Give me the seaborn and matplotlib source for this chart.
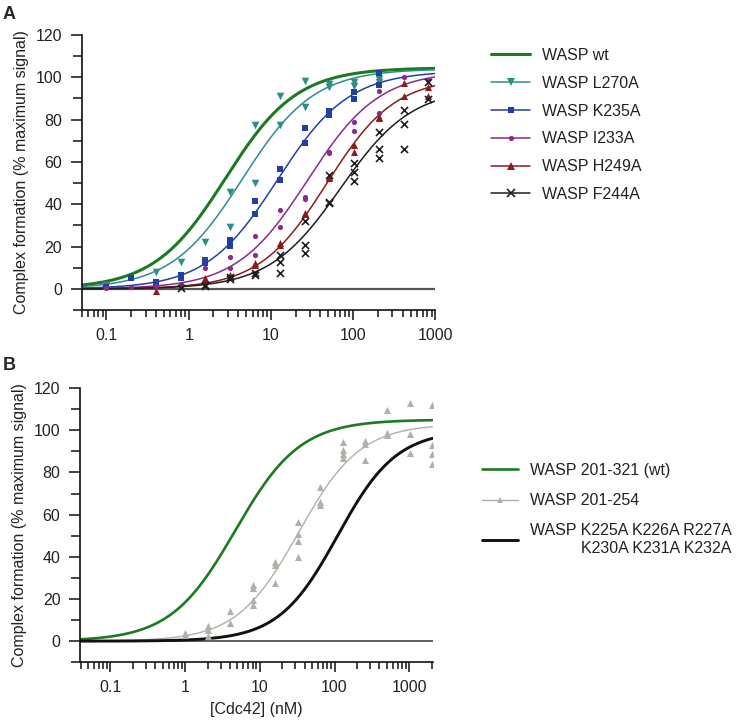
import numpy as np
import pandas as pd
import seaborn as sns
import matplotlib
matplotlib.use('Agg')
import matplotlib.pyplot as plt
from matplotlib.lines import Line2D
from matplotlib.ticker import MultipleLocator, LogLocator, NullFormatter

# ---- panel A data (replicate points) ----
l270a_x = [0.1, 0.4, 0.8, 1.6, 3.2, 3.2, 6.4, 6.4, 12.8, 12.8, 25.6, 25.6, 51.2, 51.2, 102.4, 102.4, 204.8, 204.8]
l270a_y = [1.8, 8.2, 12.9, 22.4, 46.0, 29.4, 77.5, 49.9, 91.2, 77.5, 98.3, 85.9, 96.7, 95.6, 98.0, 95.9, 99.0, 98.0]

k235a_x = [0.1, 0.2, 0.4, 0.4, 0.8, 0.8, 1.6, 1.6, 3.2, 3.2, 6.4, 6.4, 12.8, 12.8, 25.6, 25.6, 51.2, 51.2, 102.4, 102.4, 204.8, 204.8]
k235a_y = [0.8, 5.0, 3.5, 2.5, 6.6, 5.0, 13.7, 12.5, 23.2, 20.3, 41.6, 35.4, 56.6, 51.5, 76.2, 69.1, 84.2, 82.2, 93.2, 89.6, 102.2, 96.4]

i233a_x = [0.1, 0.2, 0.4, 0.8, 1.6, 3.2, 3.2, 6.4, 6.4, 12.8, 12.8, 25.6, 25.6, 51.2, 51.2, 102.4, 102.4, 204.8, 204.8, 409.6, 819.2]
i233a_y = [0.3, 0.8, 1.5, 2.5, 9.8, 15.3, 9.8, 25.0, 16.0, 37.3, 29.4, 43.6, 42.4, 64.9, 64.1, 79.1, 74.7, 93.6, 83.3, 100.3, 98.8]

h249a_x = [0.4, 0.8, 1.6, 1.6, 3.2, 3.2, 6.4, 6.4, 12.8, 12.8, 25.6, 25.6, 51.2, 51.2, 102.4, 102.4, 204.8, 204.8, 409.6, 409.6, 819.2, 819.2]
h249a_y = [-1.0, 1.5, 5.0, 4.0, 6.6, 5.5, 12.4, 11.2, 21.9, 21.0, 36.1, 35.5, 53.1, 52.3, 68.0, 64.9, 81.4, 80.6, 97.5, 91.2, 95.6, 91.0]

f244a_x = [0.8, 1.6, 1.6, 3.2, 3.2, 6.4, 6.4, 12.8, 12.8, 12.8, 25.6, 25.6, 25.6, 51.2, 51.2, 51.2,
           102.4, 102.4, 102.4, 204.8, 204.8, 204.8, 409.6, 409.6, 409.6, 819.2, 819.2]
f244a_y = [0.5, 2.0, 1.2, 5.8, 4.5, 7.7, 6.6, 16.1, 12.9, 7.7, 32.1, 20.8, 17.2, 53.6, 41.3, 40.8,
           59.4, 55.4, 51.2, 74.3, 66.1, 61.7, 84.6, 78.0, 66.0, 98.0, 89.6]

# fitted curve parameters (top, EC50 in nM, Hill slope)
a_names = ['WASP wt', 'WASP L270A', 'WASP K235A', 'WASP I233A', 'WASP H249A', 'WASP F244A']
a_top = [104.5, 104.0, 103.0, 103.0, 100.0, 95.0]
a_ec50 = [2.8, 4.5, 12.0, 28.0, 48.0, 70.0]
a_hill = [1.0, 1.0, 1.0, 1.0, 1.05, 1.0]

# ---- panel B data ----
b254_x = [1, 1, 2, 2, 2, 4, 4, 8, 8, 8, 8, 16, 16, 16, 32, 32, 32, 32, 64, 64, 64,
          128, 128, 128, 128, 256, 256, 256, 512, 512, 512, 1024, 1024, 1024, 2048, 2048, 2048, 2048]
b254_y = [4.0, 2.7, 7.1, 5.5, 2.4, 14.4, 8.7, 26.8, 25.2, 19.5, 17.0, 37.6, 36.0, 27.6, 56.7, 50.7, 47.5, 40.0,
          73.0, 65.8, 64.4, 94.3, 90.8, 88.7, 86.7, 95.1, 93.6, 85.8, 109.7, 98.8, 97.7, 113.0, 98.2, 89.1,
          111.9, 93.0, 88.7, 84.0]

b_names = ['WASP 201-321 (wt)', 'WASP 201-254', 'WASP K225A K226A R227A\nK230A K231A K232A']
b_top = [105.0, 103.0, 100.0]
b_ec50 = [4.7, 33.0, 110.0]
b_hill = [1.0, 1.05, 1.1]


def hill(x, top, ec50, n):
    return top * x ** n / (x ** n + ec50 ** n)


sns.set_style('ticks')
plt.rcParams['font.family'] = ['Liberation Sans', 'DejaVu Sans']
FS = 11.5

green = '#1d7a22'
a_colors = [green, '#2f8c8c', '#2340a0', '#8c2a8c', '#8b1c1c', '#1e1e1e']
a_markers = [None, 'v', 's', 'o', '^', 'x']
a_msize = [0, 30, 18, 14, 26, 26]
a_lw = [2.2, 1.1, 1.1, 1.1, 1.1, 1.1]
a_pts = [None, (l270a_x, l270a_y), (k235a_x, k235a_y), (i233a_x, i233a_y),
         (h249a_x, h249a_y), (f244a_x, f244a_y)]

b_colors = [green, '#b3afa9', '#111111']
b_lw = [1.9, 1.0, 2.1]

fig = plt.figure(figsize=(7.4, 7.28), dpi=100)
axA = fig.add_axes([0.1104, 0.574, 0.478, 0.378])
axB = fig.add_axes([0.108, 0.0903, 0.4775, 0.3767])


def style_axis(ax, xmin, xmax, zero_color, zero_lw):
    ax.set_xscale('log')
    ax.set_xlim(xmin, xmax)
    ax.set_ylim(-10, 120)
    ax.axhline(0, color=zero_color, lw=zero_lw, zorder=1)
    ax.set_yticks([0, 20, 40, 60, 80, 100, 120])
    ax.yaxis.set_minor_locator(MultipleLocator(10))
    ax.set_xticks([0.1, 1, 10, 100, 1000], ['0.1', '1', '10', '100', '1000'])
    ax.xaxis.set_minor_locator(LogLocator(base=10, subs=np.arange(2, 10)))
    ax.xaxis.set_minor_formatter(NullFormatter())
    sns.despine(ax=ax)
    for s in ['left', 'bottom']:
        ax.spines[s].set_linewidth(1.2)
        ax.spines[s].set_color('#111111')
    ax.tick_params(axis='y', which='major', length=8, width=1.1, pad=6, labelsize=FS, colors='#111111', labelcolor='#222222')
    ax.tick_params(axis='y', which='minor', length=6.5, width=1.1, colors='#111111')
    ax.tick_params(axis='x', which='major', length=7, width=1.1, pad=6, labelsize=FS, colors='#111111', labelcolor='#222222')
    ax.tick_params(axis='x', which='minor', length=5, width=1.1, colors='#111111')
    ax.set_ylabel('Complex formation (% maximum signal)', fontsize=FS, color='#222222', labelpad=5)


# ---- panel A ----
style_axis(axA, 0.05, 1000, '#555555', 1.6)
xa = np.logspace(np.log10(0.05), 3, 300)
handlesA = []
for i, name in enumerate(a_names):
    curve = pd.DataFrame({'x': xa, 'y': hill(xa, a_top[i], a_ec50[i], a_hill[i])})
    sns.lineplot(data=curve, x='x', y='y', ax=axA, color=a_colors[i], lw=a_lw[i], zorder=2)
    if a_pts[i] is not None:
        px, py = a_pts[i]
        if a_markers[i] == 'x':
            sns.scatterplot(x=px, y=py, ax=axA, marker='x', s=a_msize[i], color=a_colors[i],
                            linewidth=1.2, zorder=3, legend=False)
        else:
            sns.scatterplot(x=px, y=py, ax=axA, marker=a_markers[i], s=a_msize[i], color=a_colors[i],
                            linewidth=0, zorder=3, legend=False)
        handlesA.append(Line2D([], [], color=a_colors[i], lw=a_lw[i], marker=a_markers[i],
                               markersize=np.sqrt(a_msize[i]), markeredgewidth=1.2 if a_markers[i] == 'x' else 0))
    else:
        handlesA.append(Line2D([], [], color=a_colors[i], lw=a_lw[i]))
axA.set_xlabel('')

fig.legend(handlesA, a_names, loc='upper left', bbox_to_anchor=(0.664, 0.934), frameon=False,
           borderpad=0, borderaxespad=0, handlelength=2.4, handletextpad=0.75, labelspacing=0.8,
           fontsize=FS, labelcolor='#222222')

# ---- panel B ----
style_axis(axB, 0.039, 2100, '#333333', 1.1)
xb = np.logspace(np.log10(0.039), np.log10(2048), 300)
for i, name in enumerate(b_names):
    curve = pd.DataFrame({'x': xb, 'y': hill(xb, b_top[i], b_ec50[i], b_hill[i])})
    sns.lineplot(data=curve, x='x', y='y', ax=axB, color=b_colors[i], lw=b_lw[i], zorder=2)
sns.scatterplot(x=b254_x, y=b254_y, ax=axB, marker='^', s=26, color=b_colors[1], linewidth=0,
                zorder=3, legend=False)
axB.set_xlabel('[Cdc42] (nM)', fontsize=FS, color='#222222', labelpad=5)

handlesB = [Line2D([], [], color=b_colors[0], lw=b_lw[0]),
            Line2D([], [], color=b_colors[1], lw=b_lw[1], marker='^', markersize=4.5, markeredgewidth=0),
            Line2D([], [], color=b_colors[2], lw=b_lw[2])]
legB = fig.legend(handlesB, b_names, loc='upper left', bbox_to_anchor=(0.651, 0.364), frameon=False,
                  borderpad=0, borderaxespad=0, handlelength=2.3, handletextpad=0.7, labelspacing=0.95,
                  fontsize=FS, labelcolor='#222222')
legB.get_texts()[2].set_multialignment('right')

fig.text(0.004, 0.992, 'A', fontsize=13, fontweight='bold', va='top', ha='left')
fig.text(0.004, 0.51, 'B', fontsize=13, fontweight='bold', va='top', ha='left')

fig.savefig('out.png', dpi=100)
